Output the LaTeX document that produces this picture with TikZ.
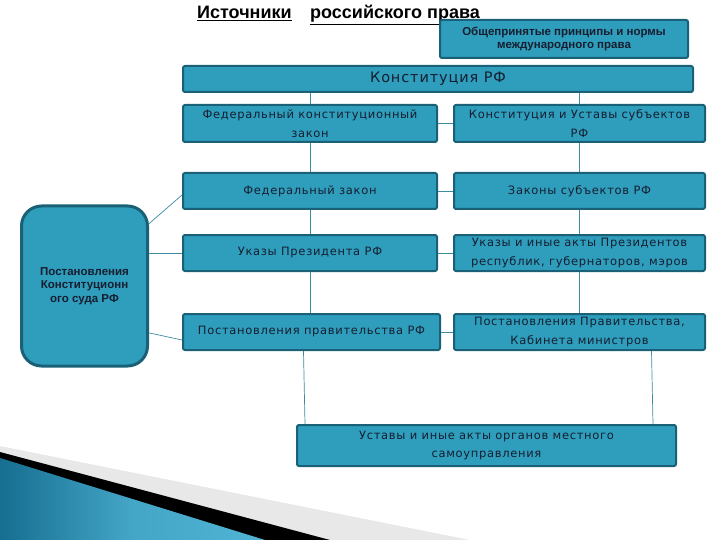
\documentclass[tikz,border=0pt]{standalone}
\usepackage{fontspec}
\setmainfont[LetterSpace=6]{DejaVu Sans}
\newfontfamily\boldf{Liberation Sans}
\usetikzlibrary{calc}
\definecolor{boxfill}{RGB}{46,158,188}
\definecolor{boxline}{RGB}{26,96,118}
\definecolor{txt}{RGB}{22,30,48}
\definecolor{conn}{RGB}{60,140,162}
\definecolor{swA}{RGB}{22,110,145}
\definecolor{swB}{RGB}{80,180,212}
\tikzset{
  box/.style={draw=boxline, line width=2pt, fill=boxfill, rounded corners=2pt,
    inner sep=1pt, text=txt, align=center, font=\fontsize{11.5}{18.5}\selectfont},
  conline/.style={draw=conn, line width=0.7pt},
  btxt/.style={font=\boldf\bfseries\fontsize{11.5}{13.5}\selectfont, text=txt, align=center},
  ttl/.style={anchor=base west, inner sep=0, font=\boldf\bfseries\fontsize{18}{20}\selectfont, text=black}
}
\begin{document}
\begin{tikzpicture}[x=1pt,y=-1pt]
\useasboundingbox (0,0) rectangle (720,540);
% decorative swoosh
\fill[gray!18] (0,446) -- (470,540) -- (0,540) -- cycle;
\fill[black] (0,452) -- (330,540) -- (0,540) -- cycle;
\shade[left color=swA, right color=swB, middle color=swB!80!swA] (0,458) -- (265,540) -- (0,540) -- cycle;
% title
\node[ttl] (t1) at (197,19) {\underline{Источники}};
\node[ttl] (t2) at (310,19) {\underline{российского права}};
% boxes
\node[box, minimum width=248pt, minimum height=38pt, btxt] (intl) at (564,39) {Общепринятые принципы и нормы\\международного права};
\node[box, minimum width=510pt, minimum height=26pt, font=\fontsize{14.5}{18}\selectfont] (konst) at (438,79) {Конституция РФ};
\node[box, minimum width=254pt, minimum height=37pt] (L1) at (310,123.5) {Федеральный конституционный\\закон};
\node[box, minimum width=251pt, minimum height=37pt] (R1) at (579.5,123.5) {Конституция и Уставы субъектов\\РФ};
\node[box, minimum width=254pt, minimum height=36pt] (L2) at (310,191) {Федеральный закон};
\node[box, minimum width=251pt, minimum height=36pt] (R2) at (579.5,191) {Законы субъектов РФ};
\node[box, minimum width=254pt, minimum height=36pt] (L3) at (310,253) {Указы Президента РФ};
\node[box, minimum width=251pt, minimum height=36pt] (R3) at (579.5,253) {Указы и иные акты Президентов\\республик, губернаторов, мэров};
\node[box, minimum width=257pt, minimum height=36pt] (L4) at (311.5,332) {Постановления правительства РФ};
\node[box, minimum width=251pt, minimum height=36pt] (R4) at (579.5,332) {Постановления Правительства,\\Кабинета министров};
\node[box, minimum width=379pt, minimum height=41pt] (bot) at (486.5,445.5) {Уставы и иные акты органов местного\\самоуправления};
\node[box, line width=3pt, rounded corners=20pt, minimum width=126pt, minimum height=160pt, btxt] (court) at (84.5,286) {Постановления\\Конституционн\\ого суда РФ};
% connectors
\draw[conline] (konst.south -| L1.north) -- (L1.north);
\draw[conline] (konst.south -| R1.north) -- (R1.north);
\draw[conline] (L1.south) -- (L2.north);
\draw[conline] (L2.south) -- (L3.north);
\draw[conline] (L3.south) -- (L4.north -| L3.south);
\draw[conline] (R1.south) -- (R2.north);
\draw[conline] (R2.south) -- (R3.north);
\draw[conline] (R3.south) -- (R4.north);
\draw[conline] (L1.east) -- (R1.west);
\draw[conline] (L2.east) -- (R2.west);
\draw[conline] (L3.east) -- (R3.west);
\draw[conline] (L4.east) -- (R4.west);
\draw[conline] ($(L4.south)+(-8,0)$) -- ($(bot.north west)+(9,0)$);
\draw[conline] ($(R4.south)+(72,0)$) -- ($(bot.north east)+(-24,0)$);
\draw[conline] (court.44) -- ($(L2.west)+(0,4)$);
\draw[conline] (L3.west -| court.east) -- (L3.west);
\draw[conline] (court.-36) -- ($(L4.west)+(0,8)$);
\end{tikzpicture}
\end{document}
